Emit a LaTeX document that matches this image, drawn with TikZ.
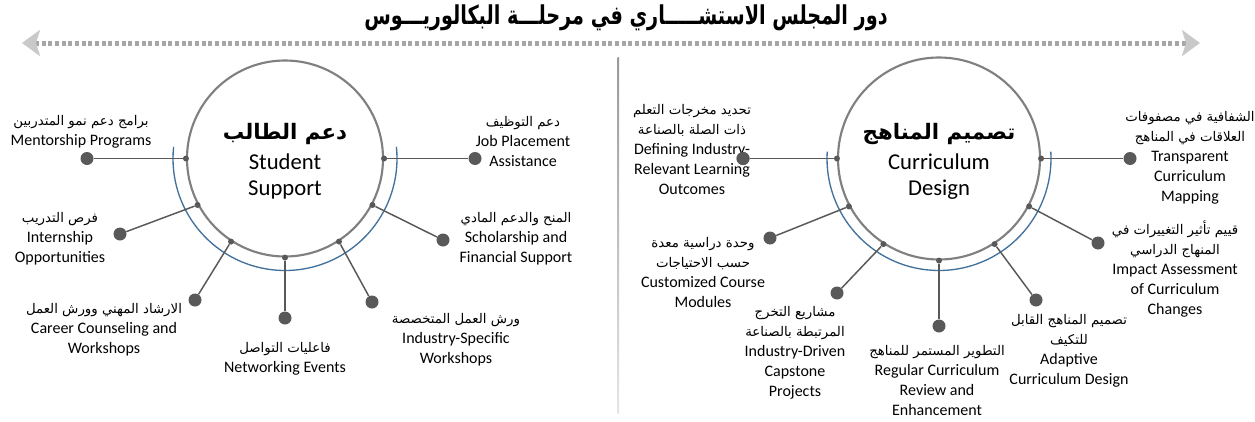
\documentclass[tikz,border=0pt]{standalone}
\usepackage{fontspec}
\usepackage{graphicx}
\setmainfont{Carlito}
\newfontfamily\arabicfont[Script=Arabic]{DejaVu Sans}
\TeXXeTstate=1
\usetikzlibrary{arrows.meta}
\newcommand\artext[1]{{\arabicfont\fontsize{10}{15}\selectfont\beginR #1\endR}}
\newcommand\arhub[1]{{\arabicfont\bfseries\fontsize{16}{19}\selectfont\beginR #1\endR}}
\definecolor{dotc}{HTML}{595959}
\definecolor{hubc}{HTML}{808080}
\definecolor{arcblue}{HTML}{41719C}
\definecolor{shaftc}{HTML}{A6A6A6}
\definecolor{headc}{HTML}{C9C9C9}
\begin{document}
\begin{tikzpicture}[x=0.75pt,y=0.75pt,
  hub/.style={circle, draw=hubc, line width=1.6pt, fill=white, inner sep=0pt},
  hubtxt/.style={align=center, inner sep=0pt, font=\fontsize{17}{19}\selectfont},
  sdot/.style={circle, fill=dotc, inner sep=0pt, minimum size=4.5pt},
  bdot/.style={circle, fill=dotc, inner sep=0pt, minimum size=9.75pt},
  conn/.style={draw=dotc, line width=1.1pt},
  bluearc/.style={draw=arcblue, line width=1pt},
  lbl/.style={align=center, inner sep=0pt, font=\fontsize{12}{15}\selectfont},
  shaft/.style={draw=shaftc, line width=3.75pt, dash pattern=on 3pt off 2pt,
    {Stealth[length=13.5pt, width=19.5pt, inset=3pt, color=headc]}-{Stealth[length=13.5pt, width=19.5pt, inset=3pt, color=headc]}}
]
\path[use as bounding box, fill=white] (0,0) rectangle (1255,-421);

% title
\node (title) at (626,-18) {\scalebox{0.74}[1]{\arabicfont\bfseries\fontsize{19.5}{22}\selectfont\beginR دور المجلس الاستشـــــاري في مرحلـــة البكالوريـــوس\endR}};

% dashed double arrow
\coordinate (aL) at (22,-43);
\coordinate (aR) at (1200,-43);
\draw[shaft] (aL) -- (aR);

% separator
\shade[top color=gray!80, bottom color=gray!20] (617.5,-57) rectangle (619,-413);

% hubs
\node[hub, minimum size=147pt] (hl) at (285,-158.5) {};
\node[hub, minimum size=151.5pt] (hr) at (939,-158.5) {};
\node[hubtxt] (hlt) at (285,-161) {\arhub{دعم الطالب}\\[4pt]Student\\Support};
\node[hubtxt] (hrt) at (939,-161) {\arhub{تصميم المناهج}\\[4pt]Curriculum\\Design};

% blue arcs
\draw[bluearc] (hl.center) ++(174:84pt) arc[start angle=174, end angle=366, radius=84pt];
\draw[bluearc] (hr.center) ++(176.5:84pt) arc[start angle=176.5, end angle=363.5, radius=84pt];

% small dots on hubs
\foreach \a/\n in {180/1, 208/2, 237/3, 270/4, 303/5, 332/6, 0/7}{
  \node[sdot] (l\n) at (hl.\a) {};
  \node[sdot] (r\n) at (hr.\a) {};
}

% outer dots left
\node[bdot] (L1) at (87,-158.5) {};
\node[bdot] (L2) at (120,-234) {};
\node[bdot] (L3) at (195,-300) {};
\node[bdot] (L4) at (285,-318) {};
\node[bdot] (L5) at (372,-302) {};
\node[bdot] (L6) at (443,-240) {};
\node[bdot] (L7) at (475,-158.5) {};
% outer dots right
\node[bdot] (R1) at (743,-158.5) {};
\node[bdot] (R2) at (770,-238) {};
\node[bdot] (R3) at (837,-293) {};
\node[bdot] (R4) at (939,-326) {};
\node[bdot] (R5) at (1036,-300) {};
\node[bdot] (R6) at (1098,-243) {};
\node[bdot] (R7) at (1130,-158.5) {};

\foreach \n in {1,...,7}{
  \draw[conn] (l\n) -- (L\n);
  \draw[conn] (r\n) -- (R\n);
}

% labels left
\node[lbl] (t1) at (81,-132) {\artext{برامج دعم نمو المتدربين}\\Mentorship Programs};
\node[lbl] (t2) at (60,-239) {\artext{فرص التدريب}\\Internship\\Opportunities};
\node[lbl] (t3) at (104,-330) {\artext{الارشاد المهني وورش العمل}\\Career Counseling and\\Workshops};
\node[lbl] (t4) at (285,-359) {\artext{فاعليات التواصل}\\Networking Events};
\node[lbl] (t5) at (456,-340) {\artext{ورش العمل المتخصصة}\\Industry-Specific\\Workshops};
\node[lbl] (t6) at (516,-239) {\artext{المنح والدعم المادي}\\Scholarship and\\Financial Support};
\node[lbl] (t7) at (523,-141) {\artext{دعم التوظيف}\\Job Placement\\Assistance};

% labels right
\node[lbl] (t8) at (692,-149.5) {\artext{تحديد مخرجات التعلم}\\\artext{ذات الصلة بالصناعة}\\Defining Industry-\\Relevant Learning\\Outcomes};
\node[lbl] (t9) at (703,-272) {\artext{وحدة دراسية معدة}\\\artext{حسب الاحتياجات}\\Customized Course\\Modules};
\node[lbl] (t10) at (795,-352.5) {\artext{مشاريع التخرج}\\\artext{المرتبطة بالصناعة}\\Industry-Driven\\Capstone\\Projects};
\node[lbl] (t11) at (937,-380) {\artext{التطوير المستمر للمناهج}\\Regular Curriculum\\Review and\\Enhancement};
\node[lbl] (t12) at (1069,-351) {\artext{تصميم المناهج القابل}\\\artext{للتكيف}\\Adaptive\\Curriculum Design};
\node[lbl] (t13) at (1175,-269) {\artext{قييم تأثير التغييرات في}\\\artext{المنهاج الدراسي}\\Impact Assessment\\of Curriculum\\Changes};
\node[lbl] (t14) at (1190,-157.5) {\artext{الشفافية في مصفوفات}\\\artext{العلاقات في المناهج}\\Transparent\\Curriculum\\Mapping};

% redraw dot over defining label
\node[bdot] at (R1) {};
\end{tikzpicture}
\end{document}
